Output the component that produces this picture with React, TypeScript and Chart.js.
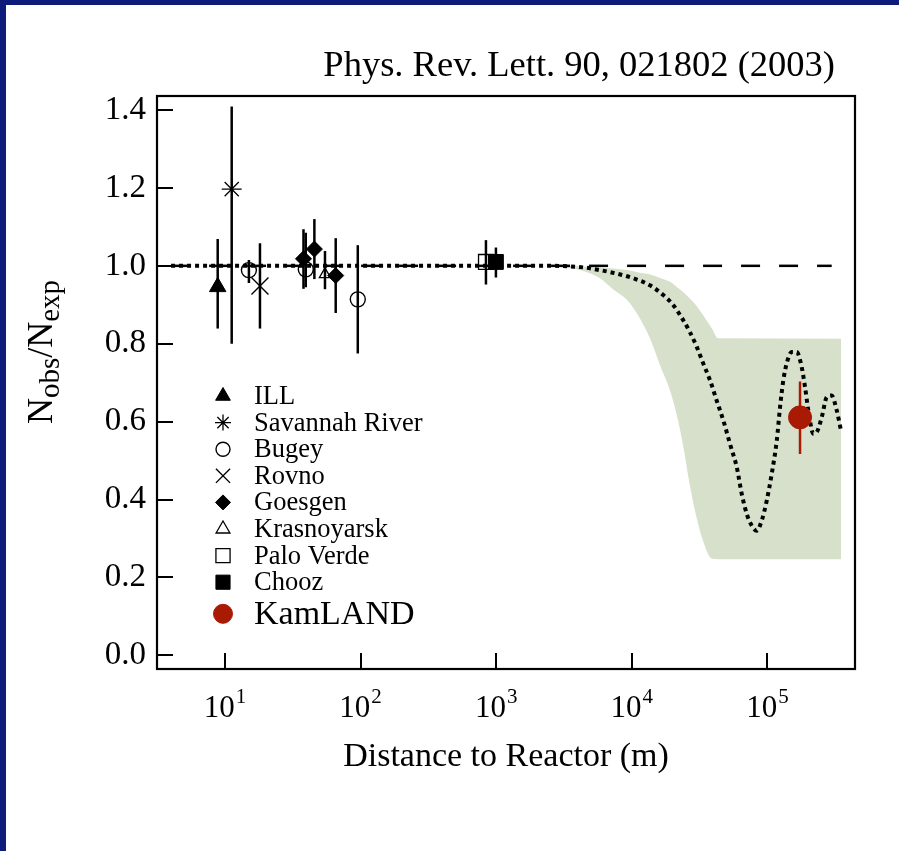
import React, { useEffect, useRef } from 'react';
import { Chart, registerables } from 'chart.js';

Chart.register(...registerables);

const FONT = '"Liberation Serif", "Times New Roman", Times, serif';

const titleText = 'Phys. Rev. Lett. 90, 021802 (2003)';
const xTitle = 'Distance to Reactor (m)';
const yTitleParts = ['N', 'obs', '/N', 'exp'];

const xTickValues = [10, 100, 1000, 10000, 100000];
const xTickBase = '10';
const xTickExponents = ['1', '2', '3', '4', '5'];
const yTickValues = [0, 0.2, 0.4, 0.6, 0.8, 1.0, 1.2, 1.4];

const xMin = 3.15;
const xMax = 442600;
const yMin = -0.035;
const yMax = 1.436;

// expected-oscillation band
const bandDistance = [2950, 4150, 5820, 7260, 9230, 11480, 13610, 16140, 19140, 21930, 24270, 26420, 29240, 33500, 39000, 43250, 349000];
const bandUpper = [1.0, 0.999, 0.996, 0.993, 0.989, 0.982, 0.978, 0.969, 0.959, 0.943, 0.931, 0.918, 0.902, 0.874, 0.839, 0.814, 0.813];
const bandLower = [0.997, 0.989, 0.968, 0.94, 0.912, 0.865, 0.814, 0.745, 0.68, 0.603, 0.526, 0.448, 0.371, 0.294, 0.248, 0.247, 0.247];

// best-fit oscillation (dotted)
const oscDistance = [4, 2500, 4385, 5820, 7745, 10260, 13610, 17060, 20230, 23990, 26790, 30130, 33670, 37760, 42270, 47320, 52970, 59430, 64710, 70420, 76700, 83370, 90800, 98850, 107600, 117200, 123900, 131000, 138600, 151000, 164400, 179000, 189400, 200400, 218200, 231000, 251600, 274000, 298000, 324400, 349000];
const oscRatio = [1.0, 1.0, 0.996, 0.989, 0.98, 0.968, 0.95, 0.925, 0.899, 0.86, 0.83, 0.792, 0.749, 0.706, 0.654, 0.603, 0.543, 0.483, 0.414, 0.363, 0.333, 0.32, 0.346, 0.397, 0.466, 0.551, 0.637, 0.706, 0.749, 0.779, 0.779, 0.74, 0.689, 0.629, 0.569, 0.573, 0.611, 0.663, 0.667, 0.629, 0.577];

// no-oscillation reference (dashed)
const refDistance = [4, 298000];
const refRatio = [1.0, 1.0];

// experiments
const illDistance = [8.83];
const illRatio = [0.946];
const illLow = [0.839];
const illHigh = [1.069];

const savannahDistance = [11.2];
const savannahRatio = [1.197];
const savannahLow = [0.8];
const savannahHigh = [1.409];

const bugeyDistance = [15.0, 39.4, 95.3];
const bugeyRatio = [0.989, 0.991, 0.914];
const bugeyLow = [0.956, 0.945, 0.775];
const bugeyHigh = [1.015, 1.085, 1.053];

const rovnoDistance = [18.1];
const rovnoRatio = [0.948];
const rovnoLow = [0.839];
const rovnoHigh = [1.058];

const goesgenDistance = [37.9, 45.6, 65.5];
const goesgenRatio = [1.018, 1.043, 0.975];
const goesgenLow = [0.941, 0.966, 0.879];
const goesgenHigh = [1.094, 1.12, 1.071];

const krasnoyarskDistance = [54.6];
const krasnoyarskRatio = [0.978];
const krasnoyarskLow = [0.94];
const krasnoyarskHigh = [1.038];

const paloVerdeDistance = [840];
const paloVerdeRatio = [1.01];
const paloVerdeLow = [0.952];
const paloVerdeHigh = [1.066];

const choozDistance = [995];
const choozRatio = [1.01];
const choozLow = [0.97];
const choozHigh = [1.047];

const kamlandDistance = [174000];
const kamlandRatio = [0.611];
const kamlandLow = [0.517];
const kamlandHigh = [0.703];

const legendNames = ['ILL', 'Savannah River', 'Bugey', 'Rovno', 'Goesgen', 'Krasnoyarsk', 'Palo Verde', 'Chooz', 'KamLAND'];

const RED = '#a91a05';
const BAND = '#d6e0ca';

const pts = (xs: number[], ys: number[]) => xs.map((x, i) => ({ x, y: ys[i] }));

type Marker = {
  style: string;
  r: number;
  lr: number;
  fill: boolean;
  color: string;
  bw: number;
};

const markers: Marker[] = [
  { style: 'triangle', r: 9.5, lr: 8.5, fill: true, color: '#000', bw: 1 },
  { style: 'star', r: 10, lr: 8, fill: false, color: '#000', bw: 1.3 },
  { style: 'circle', r: 7.5, lr: 7, fill: false, color: '#000', bw: 1.4 },
  { style: 'crossRot', r: 12, lr: 10, fill: false, color: '#000', bw: 1.4 },
  { style: 'rectRot', r: 8, lr: 7.5, fill: true, color: '#000', bw: 1 },
  { style: 'triangle', r: 6.5, lr: 8, fill: false, color: '#000', bw: 1.3 },
  { style: 'rect', r: 10.5, lr: 10, fill: false, color: '#000', bw: 1.3 },
  { style: 'rect', r: 10.5, lr: 10, fill: true, color: '#000', bw: 1 },
  { style: 'circle', r: 11.5, lr: 9.5, fill: true, color: RED, bw: 1 },
];

const expDistances = [illDistance, savannahDistance, bugeyDistance, rovnoDistance, goesgenDistance, krasnoyarskDistance, paloVerdeDistance, choozDistance, kamlandDistance];
const expRatios = [illRatio, savannahRatio, bugeyRatio, rovnoRatio, goesgenRatio, krasnoyarskRatio, paloVerdeRatio, choozRatio, kamlandRatio];
const expLows = [illLow, savannahLow, bugeyLow, rovnoLow, goesgenLow, krasnoyarskLow, paloVerdeLow, choozLow, kamlandLow];
const expHighs = [illHigh, savannahHigh, bugeyHigh, rovnoHigh, goesgenHigh, krasnoyarskHigh, paloVerdeHigh, choozHigh, kamlandHigh];

function drawMarker(ctx: CanvasRenderingContext2D, m: Marker, x: number, y: number, r: number) {
  ctx.save();
  ctx.beginPath();
  ctx.lineWidth = m.bw;
  ctx.strokeStyle = m.color;
  ctx.fillStyle = m.color;
  const s = Math.SQRT1_2 * r;
  switch (m.style) {
    case 'triangle': {
      const h = r * Math.sin(Math.PI / 3);
      ctx.moveTo(x, y - r);
      ctx.lineTo(x + h, y + r / 2);
      ctx.lineTo(x - h, y + r / 2);
      ctx.closePath();
      break;
    }
    case 'circle':
      ctx.arc(x, y, r, 0, Math.PI * 2);
      break;
    case 'rect':
      ctx.rect(x - s, y - s, 2 * s, 2 * s);
      break;
    case 'rectRot':
      ctx.moveTo(x - r, y);
      ctx.lineTo(x, y - r);
      ctx.lineTo(x + r, y);
      ctx.lineTo(x, y + r);
      ctx.closePath();
      break;
    case 'crossRot':
      ctx.moveTo(x - s, y - s);
      ctx.lineTo(x + s, y + s);
      ctx.moveTo(x - s, y + s);
      ctx.lineTo(x + s, y - s);
      break;
    case 'star':
      ctx.moveTo(x - s, y - s);
      ctx.lineTo(x + s, y + s);
      ctx.moveTo(x - s, y + s);
      ctx.lineTo(x + s, y - s);
      ctx.moveTo(x - r, y);
      ctx.lineTo(x + r, y);
      ctx.moveTo(x, y - r);
      ctx.lineTo(x, y + r);
      break;
  }
  if (m.fill) ctx.fill();
  ctx.stroke();
  ctx.restore();
}

const decorPlugin = {
  id: 'decor',
  beforeDraw(chart: any) {
    const ctx = chart.ctx as CanvasRenderingContext2D;
    ctx.save();
    ctx.fillStyle = '#ffffff';
    ctx.fillRect(0, 0, chart.width, chart.height);
    ctx.fillStyle = '#0d1b7a';
    ctx.fillRect(0, 0, chart.width, 5);
    ctx.fillRect(0, 0, 6, chart.height);
    ctx.restore();
  },
  beforeDatasetDraw(chart: any, args: any) {
    const ds = chart.data.datasets[args.index];
    if (!ds.errLow) return;
    const ctx = chart.ctx as CanvasRenderingContext2D;
    const xs = chart.scales.x;
    const ys = chart.scales.y;
    ctx.save();
    ctx.strokeStyle = ds.errColor;
    ctx.lineWidth = 2.5;
    ds.errDist.forEach((d: number, i: number) => {
      const px = xs.getPixelForValue(d);
      ctx.beginPath();
      ctx.moveTo(px, ys.getPixelForValue(ds.errLow[i]));
      ctx.lineTo(px, ys.getPixelForValue(ds.errHigh[i]));
      ctx.stroke();
    });
    ctx.restore();
  },
  afterDraw(chart: any) {
    const ctx = chart.ctx as CanvasRenderingContext2D;
    const a = chart.chartArea;
    const xs = chart.scales.x;
    const ys = chart.scales.y;
    ctx.save();
    // frame
    ctx.strokeStyle = '#000';
    ctx.lineWidth = 2.2;
    ctx.strokeRect(a.left, a.top, a.right - a.left, a.bottom - a.top);
    // inward ticks
    ctx.lineWidth = 2;
    yTickValues.forEach((v) => {
      const py = Math.round(ys.getPixelForValue(v));
      ctx.beginPath();
      ctx.moveTo(a.left, py);
      ctx.lineTo(a.left + 16, py);
      ctx.stroke();
    });
    xTickValues.forEach((v) => {
      const px = Math.round(xs.getPixelForValue(v));
      ctx.beginPath();
      ctx.moveTo(px, a.bottom);
      ctx.lineTo(px, a.bottom - 16);
      ctx.stroke();
    });
    // x tick labels with superscripts
    ctx.fillStyle = '#000';
    ctx.textBaseline = 'alphabetic';
    ctx.textAlign = 'left';
    xTickValues.forEach((v, i) => {
      const px = xs.getPixelForValue(v);
      ctx.font = `31px ${FONT}`;
      const w1 = ctx.measureText(xTickBase).width;
      ctx.font = `21px ${FONT}`;
      const w2 = ctx.measureText(xTickExponents[i]).width;
      const start = px - (w1 + w2 + 1) / 2;
      ctx.font = `31px ${FONT}`;
      ctx.fillText(xTickBase, start, a.bottom + 48);
      ctx.font = `21px ${FONT}`;
      ctx.fillText(xTickExponents[i], start + w1 + 1, a.bottom + 34);
    });
    // x title
    ctx.font = `34px ${FONT}`;
    ctx.textAlign = 'center';
    ctx.fillText(xTitle, (a.left + a.right) / 2, a.bottom + 97);
    // top title
    ctx.font = `36.5px ${FONT}`;
    ctx.textAlign = 'right';
    ctx.fillText(titleText, a.right - 20, a.top - 20);
    // y title with subscripts
    ctx.save();
    ctx.translate(52, 352);
    ctx.rotate(-Math.PI / 2);
    ctx.textAlign = 'left';
    const sizes = [36, 29, 36, 29];
    const shifts = [0, 7, 0, 7];
    let total = 0;
    const widths = yTitleParts.map((p, i) => {
      ctx.font = `${sizes[i]}px ${FONT}`;
      const w = ctx.measureText(p).width;
      total += w;
      return w;
    });
    let cx = -total / 2;
    yTitleParts.forEach((p, i) => {
      ctx.font = `${sizes[i]}px ${FONT}`;
      ctx.fillText(p, cx, shifts[i]);
      cx += widths[i];
    });
    ctx.restore();
    // legend
    ctx.textAlign = 'left';
    ctx.textBaseline = 'middle';
    const lx = a.left + 66;
    const tx = a.left + 97;
    legendNames.forEach((name, i) => {
      const last = i === legendNames.length - 1;
      const ly = a.top + 300 + i * 26.6 + (last ? 5 : 0);
      drawMarker(ctx, markers[i], lx, ly, markers[i].lr);
      ctx.fillStyle = '#000';
      ctx.font = `${last ? 34 : 26.5}px ${FONT}`;
      ctx.fillText(name, tx, ly + 1);
    });
    ctx.restore();
  },
};

export default function App() {
  const ref = useRef<HTMLCanvasElement | null>(null);

  useEffect(() => {
    if (!ref.current) return;
    const markerSets = markers.map((m, i) => ({
      type: 'line' as const,
      label: legendNames[i],
      data: pts(expDistances[i], expRatios[i]),
      showLine: false,
      pointStyle: m.style,
      pointRadius: m.r,
      pointBorderWidth: m.bw,
      pointBorderColor: m.color,
      pointBackgroundColor: m.fill ? m.color : 'rgba(0,0,0,0)',
      order: i === 8 ? 0 : 10,
      errDist: expDistances[i],
      errLow: expLows[i],
      errHigh: expHighs[i],
      errColor: m.color,
    }));
    const chart = new Chart(ref.current, {
      type: 'line',
      data: {
        datasets: [
          {
            label: 'band upper',
            data: pts(bandDistance, bandUpper),
            borderWidth: 0,
            borderColor: BAND,
            pointRadius: 0,
            fill: false,
            cubicInterpolationMode: 'monotone',
            order: 100,
          },
          {
            label: 'band lower',
            data: pts(bandDistance, bandLower),
            borderWidth: 0,
            borderColor: BAND,
            backgroundColor: BAND,
            pointRadius: 0,
            fill: '-1',
            cubicInterpolationMode: 'monotone',
            order: 99,
          },
          {
            label: 'no oscillation',
            data: pts(refDistance, refRatio),
            borderColor: '#000',
            borderWidth: 2.5,
            borderDash: [19, 19],
            pointRadius: 0,
            fill: false,
            order: 90,
          },
          {
            label: 'best fit',
            data: pts(oscDistance, oscRatio),
            borderColor: '#000',
            borderWidth: 4,
            borderDash: [4, 4],
            pointRadius: 0,
            fill: false,
            cubicInterpolationMode: 'monotone',
            order: 80,
          },
          ...markerSets,
        ] as any,
      },
      options: {
        animation: false,
        responsive: false,
        devicePixelRatio: 1,
        events: [],
        layout: { padding: { top: 96, right: 44, left: 0, bottom: 0 } },
        plugins: {
          legend: { display: false },
          title: { display: false },
          tooltip: { enabled: false },
        },
        scales: {
          x: {
            type: 'logarithmic',
            min: xMin,
            max: xMax,
            grid: { display: false, drawTicks: false },
            border: { display: false },
            ticks: { display: false },
            afterBuildTicks: (s: any) => {
              s.ticks = xTickValues.map((v) => ({ value: v }));
            },
            afterFit: (s: any) => {
              s.height = 182;
            },
          },
          y: {
            type: 'linear',
            min: yMin,
            max: yMax,
            grid: { display: false, drawTicks: false },
            border: { display: false },
            ticks: {
              color: '#000',
              padding: 11,
              font: { family: FONT, size: 33 },
              callback: (v: any) => Number(v).toFixed(1),
            },
            afterBuildTicks: (s: any) => {
              s.ticks = yTickValues.map((v) => ({ value: v }));
            },
            afterFit: (s: any) => {
              s.width = 157;
            },
          },
        },
      } as any,
      plugins: [decorPlugin],
    });
    return () => chart.destroy();
  }, []);

  return (
    <div style={{ position: 'fixed', left: 0, top: 0, width: 899, height: 851, background: '#fff' }}>
      <canvas ref={ref} width={899} height={851} style={{ display: 'block', width: 899, height: 851 }} />
    </div>
  );
}
